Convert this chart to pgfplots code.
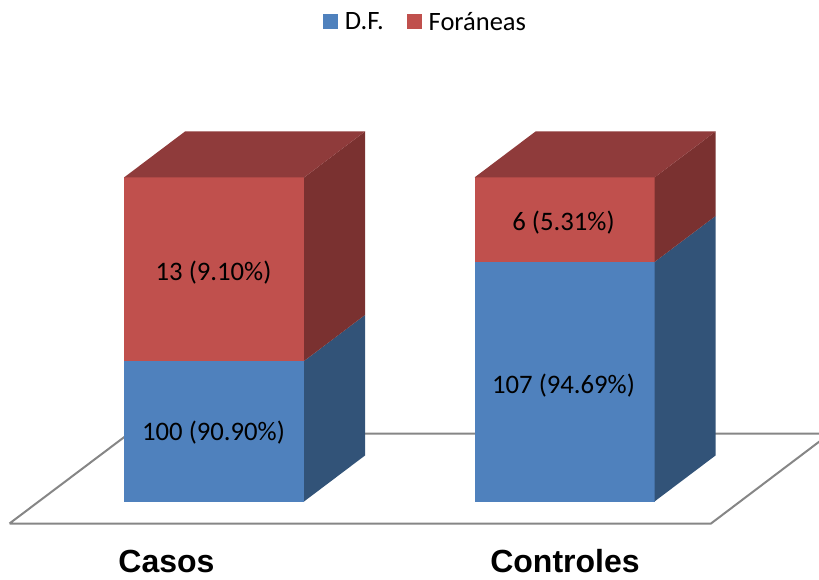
\documentclass[border=0pt]{standalone}
\usepackage{fontspec}
\setmainfont{Carlito}
\setsansfont{Liberation Sans}
\usepackage{pgfplots}
\pgfplotsset{compat=1.18}

\definecolor{dfFront}{HTML}{4F81BD}
\definecolor{dfSide}{HTML}{325378}
\definecolor{foFront}{HTML}{C0504D}
\definecolor{foSide}{HTML}{7A3130}
\definecolor{foTop}{HTML}{8F3B3B}
\definecolor{floorLine}{HTML}{868686}

\pgfplotsset{
  face/.style={fill=#1, draw=none, forget plot},
  swatch/.style={legend image code/.code={
    \fill[##1] (0pt,-7.5pt) rectangle (15pt,7.5pt);}},
}

\begin{document}
\begin{tikzpicture}
% hide axis leaves the frame out of the bounding box
\path[use as bounding box] (0,0) rectangle (819pt,579pt);
\begin{axis}[
  at={(0,0)}, anchor=south west,
  hide axis,
  scale only axis,
  width=819pt, height=579pt,
  xmin=0, xmax=819,
  ymin=0, ymax=579,
  legend columns=2,
  legend style={draw=none, fill=none, at={(axis cs:425.5,557)}, anchor=center,
    font=\fontsize{26.5}{28}\selectfont,
    /tikz/every odd column/.append style={column sep=5pt},
    /tikz/every even column/.append style={column sep=21pt}},
]
% floor
\addplot[floorLine, line width=2pt, fill=white, forget plot] coordinates {
  (9.5,55.5) (711,55.5) (830,145.5) (129,145.5) (9.5,55.5)};

% Casos
\addplot[face=dfFront] coordinates {(124,77.5) (304,77.5) (304,218) (124,218)};
\addplot[face=dfSide] coordinates {(304,77.5) (365,123.5) (365,264) (304,218)};
\addplot[face=foFront] coordinates {(124,218) (304,218) (304,401.5) (124,401.5)};
\addplot[face=foSide] coordinates {(304,218) (365,264) (365,447.5) (304,401.5)};
\addplot[face=foTop] coordinates {(124,401.5) (304,401.5) (365,447.5) (185,447.5)};

% Controles
\addplot[face=dfFront] coordinates {(474.5,77.5) (654.5,77.5) (654.5,317) (474.5,317)};
\addplot[face=dfSide] coordinates {(654.5,77.5) (715.5,123.5) (715.5,363) (654.5,317)};
\addplot[face=foFront] coordinates {(474.5,317) (654.5,317) (654.5,401.5) (474.5,401.5)};
\addplot[face=foSide] coordinates {(654.5,317) (715.5,363) (715.5,447.5) (654.5,401.5)};
\addplot[face=foTop] coordinates {(474.5,401.5) (654.5,401.5) (715.5,447.5) (535.5,447.5)};

\addlegendimage{swatch, fill=dfFront, draw=none}
\addlegendentry{D.F.}
\addlegendimage{swatch, fill=foFront, draw=none}
\addlegendentry{Foráneas}

\node[font=\fontsize{26.7}{28}\selectfont] at (axis cs:213.5,306.5) {13 (9.10\%)};
\node[font=\fontsize{26.7}{28}\selectfont] at (axis cs:213.5,146.5) {100 (90.90\%)};
\node[font=\fontsize{26.7}{28}\selectfont] at (axis cs:563.5,356) {6 (5.31\%)};
\node[font=\fontsize{26.7}{28}\selectfont] at (axis cs:563.5,193.5) {107 (94.69\%)};

\node[font=\fontsize{32}{34}\selectfont\sffamily\bfseries] at (axis cs:166.5,17.5) {Casos};
\node[font=\fontsize{32}{34}\selectfont\sffamily\bfseries] at (axis cs:565,17.5) {Controles};
\end{axis}
\end{tikzpicture}
\end{document}
